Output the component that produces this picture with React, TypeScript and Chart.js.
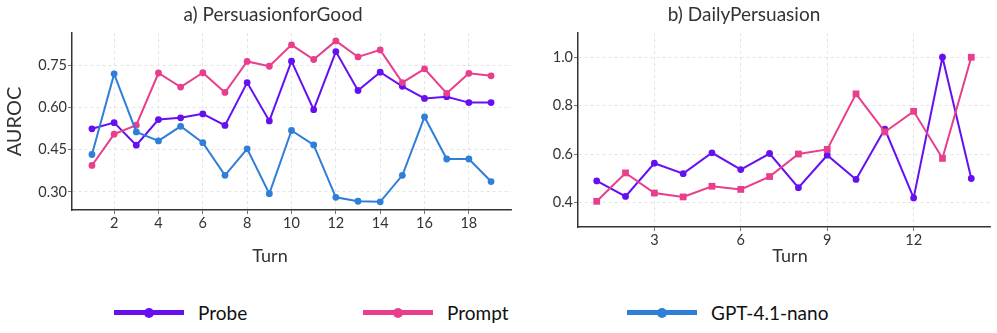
import React, { useEffect, useRef } from 'react';
import { Chart, registerables } from 'chart.js';

Chart.register(...registerables);

// ---------- data: a) PersuasionforGood ----------
const turnsA = [1, 2, 3, 4, 5, 6, 7, 8, 9, 10, 11, 12, 13, 14, 15, 16, 17, 18, 19];
const probeA = [0.524, 0.546, 0.466, 0.557, 0.563, 0.577, 0.536, 0.688, 0.552, 0.764, 0.592, 0.798, 0.660, 0.725, 0.675, 0.632, 0.638, 0.617, 0.617];
const promptA = [0.394, 0.505, 0.537, 0.722, 0.672, 0.723, 0.653, 0.763, 0.746, 0.822, 0.770, 0.836, 0.779, 0.804, 0.688, 0.737, 0.650, 0.721, 0.712];
const gptA = [0.433, 0.719, 0.513, 0.481, 0.533, 0.475, 0.359, 0.453, 0.294, 0.518, 0.467, 0.281, 0.267, 0.265, 0.359, 0.566, 0.417, 0.417, 0.337];
const xTicksA = [2, 4, 6, 8, 10, 12, 14, 16, 18];
const yTicksA = [0.3, 0.45, 0.6, 0.75];

// ---------- data: b) DailyPersuasion ----------
const turnsB = [1, 2, 3, 4, 5, 6, 7, 8, 9, 10, 11, 12, 13, 14];
const probeB = [0.490, 0.426, 0.563, 0.520, 0.606, 0.537, 0.603, 0.462, 0.596, 0.496, 0.704, 0.420, 1.0, 0.500];
const promptB = [0.406, 0.523, 0.440, 0.424, 0.468, 0.455, 0.508, 0.601, 0.620, 0.849, 0.692, 0.777, 0.583, 1.0];
const xTicksB = [3, 6, 9, 12];
const yTicksB = [0.4, 0.6, 0.8, 1.0];

const seriesNames = ['Probe', 'Prompt', 'GPT-4.1-nano'];
const COLORS = ['#6610f2', '#e83e8c', '#2f7ed8'];
const legendLefts = [114, 363, 627];

const FONT = 'Lato, "Noto Sans", sans-serif';
const TEXT = '#333333';

const captionPlugin = {
  id: 'captions',
  afterDraw(chart: any, _args: any, opts: any) {
    const ctx = chart.ctx;
    (opts.items || []).forEach((it: any) => {
      ctx.save();
      ctx.font = it.font;
      ctx.fillStyle = it.color;
      ctx.textAlign = 'center';
      ctx.textBaseline = 'middle';
      ctx.fillText(it.text, it.x, it.y);
      ctx.restore();
    });
  },
};

function makeDataset(label: string, xs: number[], ys: number[], color: string, style: string, radius: number, order: number) {
  return {
    label,
    data: xs.map((x, i) => ({ x, y: ys[i] })),
    borderColor: color,
    backgroundColor: color,
    borderWidth: 2,
    pointRadius: radius,
    pointBorderWidth: 0,
    pointStyle: style,
    pointBackgroundColor: color,
    tension: 0,
    order,
  };
}

function makeOptions(cfg: any) {
  const gridCommon = {
    color: '#dedede',
    lineWidth: 0.8,
    tickLength: 4,
    tickColor: '#777',
    tickWidth: 1,
  };
  return {
    animation: false,
    responsive: false,
    maintainAspectRatio: false,
    layout: { padding: { top: cfg.padTop, right: cfg.padRight, left: 0, bottom: 0 } },
    plugins: {
      legend: { display: false },
      tooltip: { enabled: false },
      title: { display: false },
      captions: { items: cfg.captions },
    },
    scales: {
      x: {
        type: 'linear',
        min: cfg.xMin,
        max: cfg.xMax,
        grid: gridCommon,
        border: { display: true, color: '#333', width: 1.5, dash: [3, 3] },
        afterBuildTicks: (scale: any) => {
          scale.ticks = cfg.xTicks.map((v: number) => ({ value: v }));
        },
        afterFit: (scale: any) => {
          scale.height = cfg.xAxisHeight;
        },
        ticks: {
          font: { family: FONT, size: 14.5 },
          color: TEXT,
          padding: 1,
          maxRotation: 0,
          autoSkip: false,
          callback: (v: any) => String(v),
        },
      },
      y: {
        type: 'linear',
        min: cfg.yMin,
        max: cfg.yMax,
        grid: gridCommon,
        border: { display: true, color: '#333', width: 1.5, dash: [3, 3] },
        afterBuildTicks: (scale: any) => {
          scale.ticks = cfg.yTicks.map((v: number) => ({ value: v }));
        },
        afterFit: (scale: any) => {
          scale.width = cfg.yAxisWidth;
        },
        title: cfg.yTitle
          ? {
              display: true,
              text: cfg.yTitle,
              font: { family: FONT, size: 20 },
              color: TEXT,
              padding: { top: 3, bottom: 0 },
            }
          : { display: false },
        ticks: {
          font: { family: FONT, size: 14.5 },
          color: TEXT,
          padding: 1,
          autoSkip: false,
          callback: (v: any) => Number(v).toFixed(cfg.yDecimals),
        },
      },
    },
  };
}

function ChartCanvas(props: { width: number; height: number; build: () => any; style: React.CSSProperties }) {
  const ref = useRef<HTMLCanvasElement | null>(null);
  useEffect(() => {
    if (!ref.current) return;
    const chart = new Chart(ref.current, props.build());
    return () => chart.destroy();
  }, []);
  return <canvas ref={ref} width={props.width} height={props.height} style={{ position: 'absolute', width: props.width, height: props.height, ...props.style }} />;
}

function buildLeft() {
  return {
    type: 'line',
    data: {
      datasets: [
        makeDataset(seriesNames[0], turnsA, probeA, COLORS[0], 'circle', 3.4, 2),
        makeDataset(seriesNames[1], turnsA, promptA, COLORS[1], 'circle', 3.4, 1),
        makeDataset(seriesNames[2], turnsA, gptA, COLORS[2], 'circle', 3.4, 0),
      ],
    },
    options: makeOptions({
      xMin: 0.1, xMax: 19.9, yMin: 0.236, yMax: 0.864,
      xTicks: xTicksA, yTicks: yTicksA, yDecimals: 2,
      yAxisWidth: 72, xAxisHeight: 70, padTop: 33, padRight: 9,
      yTitle: 'AUROC',
      captions: [
        { text: 'a) PersuasionforGood', x: 273, y: 15, font: `19px ${FONT}`, color: TEXT },
        { text: 'Turn', x: 270, y: 256, font: `18px ${FONT}`, color: TEXT },
      ],
    }),
    plugins: [captionPlugin],
  };
}

function buildRight() {
  return {
    type: 'line',
    data: {
      datasets: [
        makeDataset(seriesNames[0], turnsB, probeB, COLORS[0], 'circle', 3.4, 1),
        makeDataset(seriesNames[1], turnsB, promptB, COLORS[1], 'rect', 4.8, 0),
      ],
    },
    options: makeOptions({
      xMin: 0.35, xMax: 14.65, yMin: 0.3, yMax: 1.1,
      xTicks: xTicksB, yTicks: yTicksB, yDecimals: 1,
      yAxisWidth: 58, xAxisHeight: 53, padTop: 33, padRight: 7,
      yTitle: null,
      captions: [
        { text: 'b) DailyPersuasion', x: 224, y: 15, font: `19px ${FONT}`, color: TEXT },
        { text: 'Turn', x: 270, y: 256, font: `18px ${FONT}`, color: TEXT },
      ],
    }),
    plugins: [captionPlugin],
  };
}

export default function App() {
  return (
    <div style={{ position: 'absolute', left: 0, top: 0, width: 997, height: 333, background: '#fff', overflow: 'hidden' }}>
      <ChartCanvas width={520} height={280} build={buildLeft} style={{ left: 0, top: 0 }} />
      <ChartCanvas width={477} height={280} build={buildRight} style={{ left: 520, top: 0 }} />
      {seriesNames.map((name, i) => (
        <div
          key={name}
          style={{
            position: 'absolute',
            left: legendLefts[i],
            top: 301,
            display: 'flex',
            alignItems: 'center',
            fontFamily: FONT,
            fontSize: 19,
            color: '#111',
            lineHeight: '23px',
            whiteSpace: 'nowrap',
          }}
        >
          <div style={{ position: 'relative', width: 70, height: 5, background: COLORS[i], marginRight: 14 }}>
            <div
              style={{
                position: 'absolute',
                left: 30,
                top: -2.5,
                width: 10,
                height: 10,
                borderRadius: '50%',
                background: COLORS[i],
              }}
            />
          </div>
          <span>{name}</span>
        </div>
      ))}
    </div>
  );
}
